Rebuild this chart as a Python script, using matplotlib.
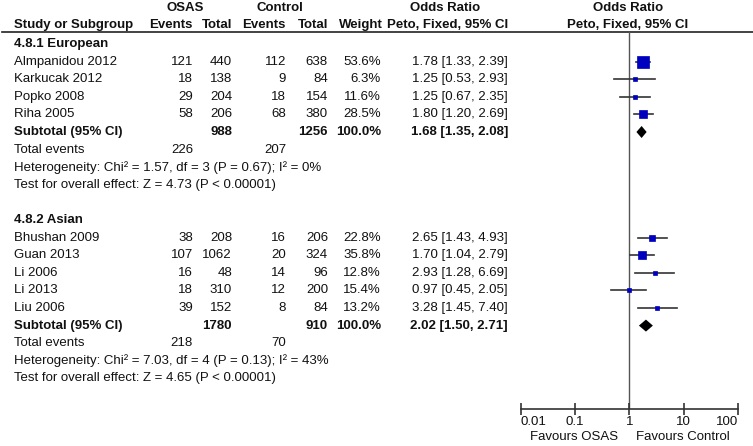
import matplotlib
matplotlib.use("Agg")
import matplotlib.pyplot as plt

plt.rcParams['font.family'] = ['Liberation Sans', 'DejaVu Sans']
plt.rcParams['font.size'] = 9.5

# ---- data ----
eur_name = "4.8.1 European"
eur_studies = ["Almpanidou 2012", "Karkucak 2012", "Popko 2008", "Riha 2005"]
eur_osas_ev = [121, 18, 29, 58]
eur_osas_tot = [440, 138, 204, 206]
eur_ctrl_ev = [112, 9, 18, 68]
eur_ctrl_tot = [638, 84, 154, 380]
eur_weight = [53.6, 6.3, 11.6, 28.5]
eur_or = [1.78, 1.25, 1.25, 1.80]
eur_lo = [1.33, 0.53, 0.67, 1.20]
eur_hi = [2.39, 2.93, 2.35, 2.69]
eur_sub = [1.68, 1.35, 2.08]
eur_het = "Heterogeneity: Chi\u00b2 = 1.57, df = 3 (P = 0.67); I\u00b2 = 0%"
eur_test = "Test for overall effect: Z = 4.73 (P < 0.00001)"

asia_name = "4.8.2 Asian"
asia_studies = ["Bhushan 2009", "Guan 2013", "Li 2006", "Li 2013", "Liu 2006"]
asia_osas_ev = [38, 107, 16, 18, 39]
asia_osas_tot = [208, 1062, 48, 310, 152]
asia_ctrl_ev = [16, 20, 14, 12, 8]
asia_ctrl_tot = [206, 324, 96, 200, 84]
asia_weight = [22.8, 35.8, 12.8, 15.4, 13.2]
asia_or = [2.65, 1.70, 2.93, 0.97, 3.28]
asia_lo = [1.43, 1.04, 1.28, 0.45, 1.45]
asia_hi = [4.93, 2.79, 6.69, 2.05, 7.40]
asia_sub = [2.02, 1.50, 2.71]
asia_het = "Heterogeneity: Chi\u00b2 = 7.03, df = 4 (P = 0.13); I\u00b2 = 43%"
asia_test = "Test for overall effect: Z = 4.65 (P < 0.00001)"

axis_ticks = [0.01, 0.1, 1, 10, 100]
axis_labels = ["0.01", "0.1", "1", "10", "100"]

groups = [
    (eur_name, eur_studies, eur_osas_ev, eur_osas_tot, eur_ctrl_ev, eur_ctrl_tot,
     eur_weight, eur_or, eur_lo, eur_hi, eur_sub, eur_het, eur_test),
    (asia_name, asia_studies, asia_osas_ev, asia_osas_tot, asia_ctrl_ev, asia_ctrl_tot,
     asia_weight, asia_or, asia_lo, asia_hi, asia_sub, asia_het, asia_test),
]

# ---- layout (pixels) ----
W, H = 753, 446
row0, drow = 44, 17.6
x_name, x_oe, x_ot, x_ce, x_ct, x_w, x_ci = 14, 193, 232, 286, 328, 381, 508
plot_l, plot_r, plot_top, plot_bot = 520.7, 738, 32, 409
txt_col = "#111111"
line_col = "#333333"
box_col = "#0000BF"

fig = plt.figure(figsize=(W / 100, H / 100), dpi=100)
ax_t = fig.add_axes([0, 0, 1, 1])
ax_t.set_xlim(0, W)
ax_t.set_ylim(H, 0)
ax_t.axis("off")

def rowy(r):
    return row0 + drow * r

def put(x, y, s, ha="left", bold=False):
    ax_t.text(x, y, s, ha=ha, va="center", color=txt_col,
              fontweight="bold" if bold else "normal")

# headers
put(185, 8, "OSAS", ha="center", bold=True)
put(280, 8, "Control", ha="center", bold=True)
put(445, 8, "Odds Ratio", ha="center", bold=True)
put(628, 8, "Odds Ratio", ha="center", bold=True)
put(x_name, 25, "Study or Subgroup", bold=True)
put(x_oe, 25, "Events", ha="right", bold=True)
put(x_ot, 25, "Total", ha="right", bold=True)
put(x_ce, 25, "Events", ha="right", bold=True)
put(x_ct, 25, "Total", ha="right", bold=True)
put(x_w + 2, 25, "Weight", ha="right", bold=True)
put(x_ci, 25, "Peto, Fixed, 95% CI", ha="right", bold=True)
put(628, 25, "Peto, Fixed, 95% CI", ha="center", bold=True)
ax_t.axhline(32, xmin=2 / W, xmax=1, color="#222222", lw=1.2)

# forest axes
ax = fig.add_axes([plot_l / W, 1 - plot_bot / H, (plot_r - plot_l) / W, (plot_bot - plot_top) / H])
ax.set_facecolor("none")
ax.set_xscale("log")
ax.set_xlim(0.01, 100)
ax.set_ylim((plot_bot - row0) / drow, (plot_top - row0) / drow)
ax.axvline(1, color="#555555", lw=1.0, zorder=1)

r = 0
for (name, studies, oe, ot, ce, ct, w, est, lo, hi, sub, het, test) in groups:
    put(x_name, rowy(r), name, bold=True)
    r += 1
    for i in range(len(studies)):
        y = rowy(r)
        put(x_name, y, studies[i])
        put(x_oe, y, str(oe[i]), ha="right")
        put(x_ot, y, str(ot[i]), ha="right")
        put(x_ce, y, str(ce[i]), ha="right")
        put(x_ct, y, str(ct[i]), ha="right")
        put(x_w, y, "%.1f%%" % w[i], ha="right")
        put(x_ci, y, "%.2f [%.2f, %.2f]" % (est[i], lo[i], hi[i]), ha="right")
        ax.plot([lo[i], hi[i]], [r, r], color=line_col, lw=1.2, zorder=2)
        side = 2 + 0.18 * w[i]
        ax.plot([est[i]], [r], marker="s", ms=side * 0.72, mfc=box_col, mec=box_col,
                mew=0.5, ls="none", zorder=3)
        r += 1
    y = rowy(r)
    put(x_name, y, "Subtotal (95% CI)", bold=True)
    put(x_ot, y, str(sum(ot)), ha="right", bold=True)
    put(x_ct, y, str(sum(ct)), ha="right", bold=True)
    put(x_w, y, "100.0%", ha="right", bold=True)
    put(x_ci, y, "%.2f [%.2f, %.2f]" % tuple(sub), ha="right", bold=True)
    hh = 6 / drow
    ax.fill([sub[1], sub[0], sub[2], sub[0]], [r, r - hh, r, r + hh],
            color="black", lw=0, zorder=3)
    r += 1
    y = rowy(r)
    put(x_name, y, "Total events")
    put(x_oe, y, str(sum(oe)), ha="right")
    put(x_ce, y, str(sum(ce)), ha="right")
    r += 1
    put(x_name, rowy(r), het)
    r += 1
    put(x_name, rowy(r), test)
    r += 2

for s in ["left", "right", "top"]:
    ax.spines[s].set_visible(False)
ax.spines["bottom"].set_color(line_col)
ax.spines["bottom"].set_linewidth(1.2)
ax.set_yticks([])
ax.set_xticks(axis_ticks)
ax.set_xticklabels(axis_labels)
ax.minorticks_off()
ax.tick_params(axis="x", direction="inout", length=8, width=1.2, color=line_col,
               pad=1, labelsize=9.5, labelcolor=txt_col)
tl = ax.get_xticklabels()
tl[0].set_ha("left")
tl[-1].set_ha("right")

put(618, 437, "Favours OSAS", ha="right")
put(636, 437, "Favours Control", ha="left")

fig.savefig("out.png", dpi=100)
